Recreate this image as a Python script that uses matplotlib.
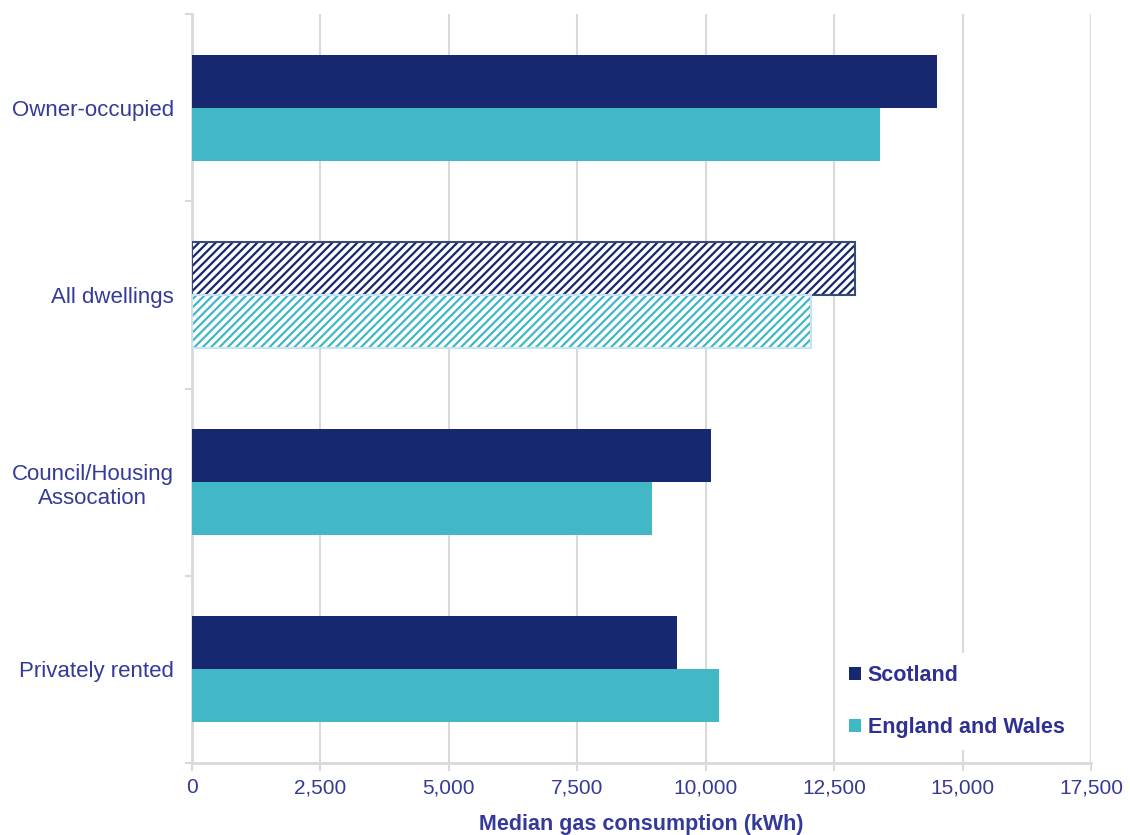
import numpy as np
import matplotlib
matplotlib.use('Agg')
import matplotlib.pyplot as plt
from matplotlib.patches import Patch
from matplotlib.ticker import FuncFormatter, FixedLocator

# median gas consumption (kWh) by tenure
tenures = ['Owner-occupied', 'All dwellings', 'Council/Housing\nAssocation', 'Privately rented']
scotland = [14500, 12900, 10100, 9450]
england_wales = [13400, 12050, 8950, 10250]
xticks = [0, 2500, 5000, 7500, 10000, 12500, 15000, 17500]

navy = '#16286f'
teal = '#42b7c5'
text_col = '#343a98'
grey = '#d9d9d9'

plt.rcParams['font.family'] = ['Liberation Sans', 'DejaVu Sans']
plt.rcParams['hatch.linewidth'] = 1.6

fig = plt.figure(figsize=(11.3, 8.35), dpi=100)
ax = fig.add_axes([0.1699, 0.0862, 0.7956, 0.897])

y = np.arange(len(tenures))
h = 0.283
for i in range(len(tenures)):
    if tenures[i] == 'All dwellings':
        # hatched bars for the all-dwellings total
        ax.barh(y[i] - h / 2, scotland[i], height=h, facecolor='white',
                edgecolor=navy, hatch='////', linewidth=0, zorder=3)
        ax.barh(y[i] - h / 2, scotland[i], height=h, fill=False,
                edgecolor='#3a4a78', linewidth=1.5, zorder=3)
        ax.barh(y[i] + h / 2, england_wales[i], height=h, facecolor='white',
                edgecolor=teal, hatch='////', linewidth=0, zorder=3)
        ax.barh(y[i] + h / 2, england_wales[i], height=h, fill=False,
                edgecolor='#c9e2f2', linewidth=1.5, zorder=3)
    else:
        ax.barh(y[i] - h / 2, scotland[i], height=h, color=navy, zorder=3)
        ax.barh(y[i] + h / 2, england_wales[i], height=h, color=teal, zorder=3)

ax.set_xlim(0, 17500)
ax.set_ylim(3.5, -0.5)
ax.set_xticks(xticks)
ax.xaxis.set_major_formatter(FuncFormatter(lambda v, p: f'{int(v):,}'))
ax.grid(axis='x', color=grey, linewidth=1.5, zorder=0)

ax.set_yticks(y)
ax.set_yticklabels(tenures)
for lab in ax.get_yticklabels():
    lab.set_multialignment('center')
ax.yaxis.set_minor_locator(FixedLocator([-0.5, 0.5, 1.5, 2.5, 3.5]))
ax.tick_params(axis='y', which='major', length=0, pad=13, labelsize=16, labelcolor=text_col)
ax.tick_params(axis='y', which='minor', length=5, width=1.5, color=grey)
ax.tick_params(axis='x', length=6, width=1.5, color=grey, pad=5, labelsize=15, labelcolor=text_col)

for side in ['top', 'right']:
    ax.spines[side].set_visible(False)
for side in ['left', 'bottom']:
    ax.spines[side].set_color(grey)
    ax.spines[side].set_linewidth(2)

ax.set_xlabel('Median gas consumption (kWh)', fontsize=15.5, fontweight='bold',
              color=text_col, labelpad=12)

handles = [Patch(facecolor=navy, edgecolor='none', label='Scotland'),
           Patch(facecolor=teal, edgecolor='none', label='England and Wales')]
leg = ax.legend(handles=handles, loc='center left', bbox_to_anchor=(0.718, 0.082),
                frameon=True, fancybox=False, edgecolor='none', facecolor='white',
                framealpha=1, borderaxespad=0, borderpad=0.55, labelspacing=1.45,
                handlelength=0.55, handleheight=0.55, handletextpad=0.3,
                prop={'size': 15.5, 'weight': 'bold'})
leg.set_zorder(4)
for t in leg.get_texts():
    t.set_color('#2e3192')

fig.savefig('out.png', dpi=100)
